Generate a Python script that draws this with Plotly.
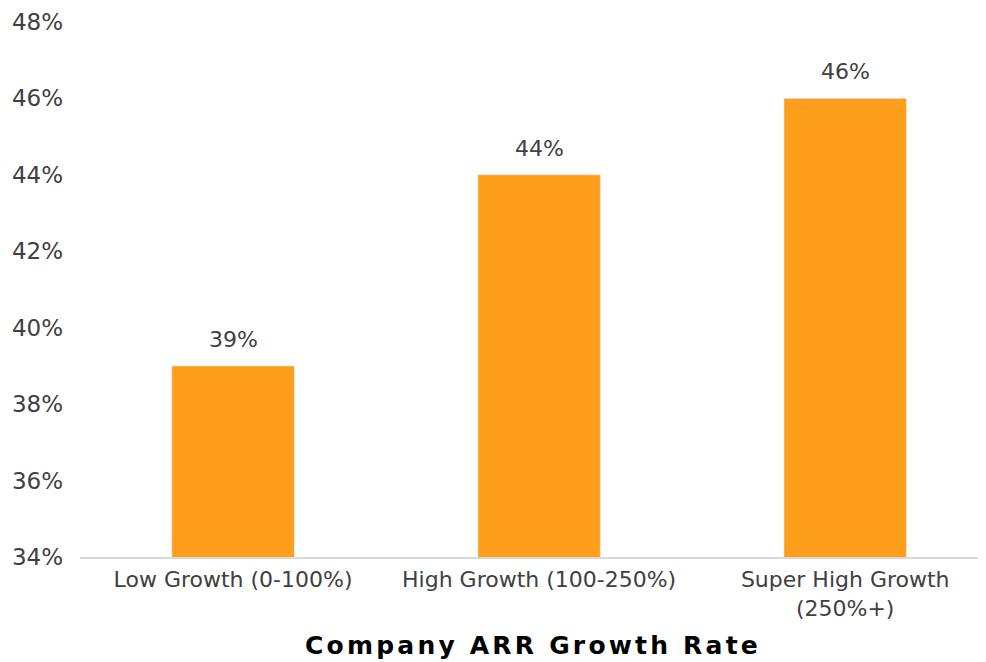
import plotly.graph_objects as go

categories = ["Low Growth (0-100%)", "High Growth (100-250%)", "Super High Growth<br>(250%+)"]
values = [39, 44, 46]
value_labels = ["39%", "44%", "46%"]
y_ticks = [34, 36, 38, 40, 42, 44, 46, 48]
y_tick_labels = ["34%", "36%", "38%", "40%", "42%", "44%", "46%", "48%"]

fig = go.Figure(go.Bar(
    x=categories, y=values,
    marker_color="#FF9E1B", width=0.4,
))
for c, v, t in zip(categories, values, value_labels):
    fig.add_annotation(x=c, y=v, text=t, showarrow=False, yanchor="bottom", yshift=12,
                       font=dict(size=22, color="#404040", family="DejaVu Sans"))

fig.update_layout(
    width=986, height=662,
    margin=dict(l=72, r=8, t=14, b=113),
    plot_bgcolor="white", paper_bgcolor="white",
    font=dict(family="DejaVu Sans", color="#404040"),
    showlegend=False,
)
fig.update_xaxes(
    range=[-0.5, 2.46], showline=True, linecolor="#D9D9D9", linewidth=2,
    tickfont=dict(size=22, color="#404040"), ticks="", automargin=False,
    ticklabelstandoff=2,
    title=dict(text="<b>Company ARR Growth Rate</b>", font=dict(size=25, color="black", family="DejaVu Sans"), standoff=16),
)
fig.update_yaxes(
    range=[34, 48], tickvals=y_ticks, ticktext=y_tick_labels, showgrid=False,
    zeroline=False, showline=False, tickfont=dict(size=23, color="#404040"), ticks="",
    ticklabelstandoff=16, automargin=False,
)
post = "document.querySelectorAll('.xtitle').forEach(function(e){e.style.letterSpacing='3.2px';});"
fig.write_html("out.html", post_script=post)
